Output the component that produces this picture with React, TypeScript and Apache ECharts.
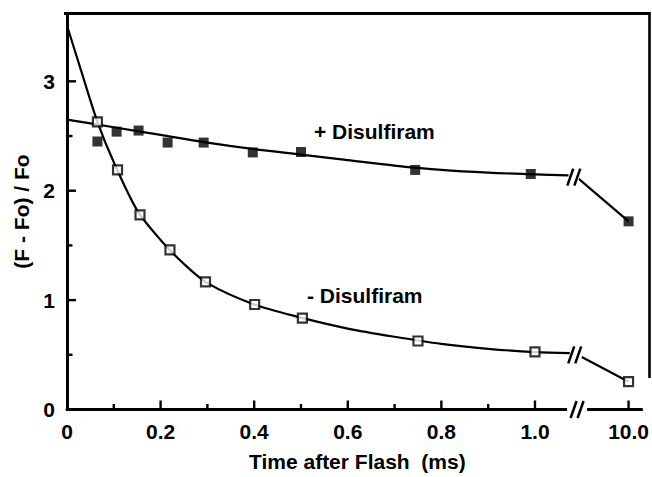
import React, { useEffect, useRef } from "react";
import * as echarts from "echarts";

// Measured points (time in ms; 10.0 sits after the axis break)
const minusTime = [0.065, 0.108, 0.156, 0.22, 0.296, 0.401, 0.503, 0.75, 1.0, 10.0];
const minusVal = [2.63, 2.19, 1.78, 1.46, 1.167, 0.96, 0.836, 0.626, 0.526, 0.254];
const plusTime = [0.065, 0.106, 0.153, 0.215, 0.292, 0.397, 0.5, 0.744, 0.991, 10.0];
const plusVal = [2.45, 2.54, 2.55, 2.44, 2.44, 2.35, 2.354, 2.19, 2.153, 1.72];

// Fitted curves
const minusFitTime = [0, 0.03, 0.065, 0.1, 0.15, 0.2, 0.25, 0.3, 0.4, 0.5, 0.6, 0.7, 0.8, 0.9, 1.0, 1.075];
const minusFitVal = [3.51, 3.1, 2.63, 2.26, 1.82, 1.55, 1.33, 1.155, 0.96, 0.84, 0.74, 0.665, 0.6, 0.555, 0.525, 0.515];
const plusFitTime = [0, 0.1, 0.2, 0.3, 0.4, 0.5, 0.6, 0.7, 0.8, 0.9, 1.0, 1.072];
const plusFitVal = [2.65, 2.58, 2.51, 2.44, 2.38, 2.33, 2.28, 2.23, 2.19, 2.165, 2.15, 2.14];
// Segments after the break, ending at the 10.0 ms points
const minusTailTime = [1.1, 10.0];
const minusTailVal = [0.48, 0.254];
const plusTailTime = [1.093, 10.0];
const plusTailVal = [2.11, 1.72];

// Break marks: [time, value] on the x axis and on both curves
const axisBreak = [1.09, 0];
const lineBreaks = [
  [1.083, 2.125],
  [1.085, 0.5],
];

// Ticks and labels
const xMajorTicks = [0.2, 0.4, 0.6, 0.8, 1.0, 10.0];
const xMinorTicks = [0.1, 0.3, 0.5, 0.7, 0.9];
const xLabels = [0, 0.2, 0.4, 0.6, 0.8, 1.0, 10.0];
const yMajorTicks = [1, 2, 3];
const yMinorTicks = [0.5, 1.5, 2.5];
const yLabels = [0, 1, 2, 3];

const BREAK_POS = 1.2; // axis position of 10.0 ms
const X_MAX = 1.228;
const Y_MAX = 3.62;
const pos = (t: number) => (t >= 5 ? BREAK_POS : t);
const pairs = (xs: number[], ys: number[]) => xs.map((x, i) => [pos(x), ys[i]]);

const FONT = "Liberation Sans";

export default function App() {
  const ref = useRef<HTMLDivElement>(null);
  useEffect(() => {
    if (!ref.current) return;
    const chart = echarts.init(ref.current, null, { renderer: "svg" });
    const black = "#000";
    const textStyle = { fontFamily: FONT, fontWeight: "bold" as const, fontSize: 21, color: black };
    const lineStyle = { color: black, width: 2.2 };

    // mark rows: [x, y, kind, length]; kind 0 = curve break, 1 = axis break, 2 = x tick, 3 = y tick
    const markRows = [
      ...xMajorTicks.map((v) => [pos(v), 0, 2, 9]),
      ...xMinorTicks.map((v) => [v, 0, 2, 5.5]),
      ...yMajorTicks.map((v) => [0, v, 3, 9]),
      ...yMinorTicks.map((v) => [0, v, 3, 5.5]),
      [axisBreak[0], axisBreak[1], 1, 0],
      ...lineBreaks.map((b) => [b[0], b[1], 0, 0]),
    ];

    chart.setOption({
      animation: false,
      backgroundColor: "#fff",
      grid: { left: 67, right: 9, top: 13.5, bottom: 67.5 },
      xAxis: {
        type: "value",
        min: 0,
        max: X_MAX,
        axisLine: { show: true, onZero: false, lineStyle: { color: black, width: 3 } },
        axisTick: { show: false },
        axisLabel: {
          show: true,
          margin: 11,
          ...textStyle,
          customValues: xLabels.map(pos),
          formatter: (v: number) =>
            Math.abs(v - BREAK_POS) < 1e-6 ? "10.0" : v === 0 ? "0" : v.toFixed(1),
        },
        splitLine: { show: false },
        name: "Time after Flash  (ms)",
        nameLocation: "middle",
        nameGap: 41,
        nameTextStyle: { ...textStyle, padding: [0, 0, 0, 6] },
      },
      yAxis: {
        type: "value",
        min: 0,
        max: Y_MAX,
        axisLine: { show: true, onZero: false, lineStyle: { color: black, width: 3 } },
        axisTick: { show: false },
        axisLabel: { show: true, margin: 12, ...textStyle, customValues: yLabels },
        splitLine: { show: false },
        name: "(F - Fo) / Fo",
        nameLocation: "middle",
        nameGap: 35,
        nameRotate: 90,
        nameTextStyle: textStyle,
      },
      graphic: [
        {
          type: "line",
          shape: { x1: 64, y1: 13.5, x2: 649.5, y2: 13.5 },
          style: { stroke: black, lineWidth: 2.8 },
          silent: true,
        },
        {
          type: "line",
          shape: { x1: 649.5, y1: 12, x2: 649.5, y2: 378 },
          style: { stroke: black, lineWidth: 2.6 },
          silent: true,
        },
        {
          type: "text",
          left: 314,
          top: 121,
          style: { text: "+ Disulfiram", font: `bold 21px "${FONT}"`, fill: black },
        },
        {
          type: "text",
          left: 307,
          top: 285,
          style: { text: "- Disulfiram", font: `bold 21px "${FONT}"`, fill: black },
        },
      ],
      series: [
        { type: "line", data: pairs(minusFitTime, minusFitVal), smooth: 0.3, symbol: "none", lineStyle, z: 3 },
        { type: "line", data: pairs(minusTailTime, minusTailVal), symbol: "none", lineStyle, z: 3 },
        { type: "line", data: pairs(plusFitTime, plusFitVal), smooth: 0.3, symbol: "none", lineStyle, z: 3 },
        { type: "line", data: pairs(plusTailTime, plusTailVal), symbol: "none", lineStyle, z: 3 },
        {
          type: "scatter",
          name: "- Disulfiram",
          data: pairs(minusTime, minusVal),
          symbol: "rect",
          symbolSize: 9,
          itemStyle: { color: "#fff", borderColor: black, borderWidth: 2.2 },
          z: 5,
        },
        {
          type: "scatter",
          name: "+ Disulfiram",
          data: pairs(plusTime, plusVal),
          symbol: "rect",
          symbolSize: 10,
          itemStyle: { color: black },
          z: 5,
        },
        {
          type: "custom",
          data: markRows,
          encode: { x: 0, y: 1 },
          clip: false,
          z: 6,
          renderItem: (_params: any, api: any) => {
            const p = api.coord([api.value(0), api.value(1)]);
            const kind = api.value(2);
            const len = api.value(3);
            const children: any[] = [];
            if (kind === 2) {
              children.push({
                type: "line",
                shape: { x1: p[0], y1: p[1], x2: p[0], y2: p[1] - len },
                style: { stroke: black, lineWidth: 2.4 },
              });
              return { type: "group", children };
            }
            if (kind === 3) {
              children.push({
                type: "line",
                shape: { x1: p[0], y1: p[1], x2: p[0] + len, y2: p[1] },
                style: { stroke: black, lineWidth: 2.4 },
              });
              return { type: "group", children };
            }
            children.push(
              kind === 1
                ? { type: "rect", shape: { x: p[0] - 10, y: p[1] - 4, width: 20, height: 8 }, style: { fill: "#fff" } }
                : { type: "rect", shape: { x: p[0] - 5, y: p[1] - 4, width: 10, height: 8 }, style: { fill: "#fff" } }
            );
            for (const dx of [-3.5, 3.5]) {
              children.push({
                type: "line",
                shape: { x1: p[0] + dx - 3, y1: p[1] + 8.5, x2: p[0] + dx + 3, y2: p[1] - 8.5 },
                style: { stroke: black, lineWidth: 2.5 },
              });
            }
            return { type: "group", children };
          },
        },
      ],
    });
    return () => chart.dispose();
  }, []);
  return (
    <div
      ref={ref}
      style={{ position: "fixed", left: 0, top: 0, width: 652, height: 477, background: "#fff" }}
    />
  );
}
